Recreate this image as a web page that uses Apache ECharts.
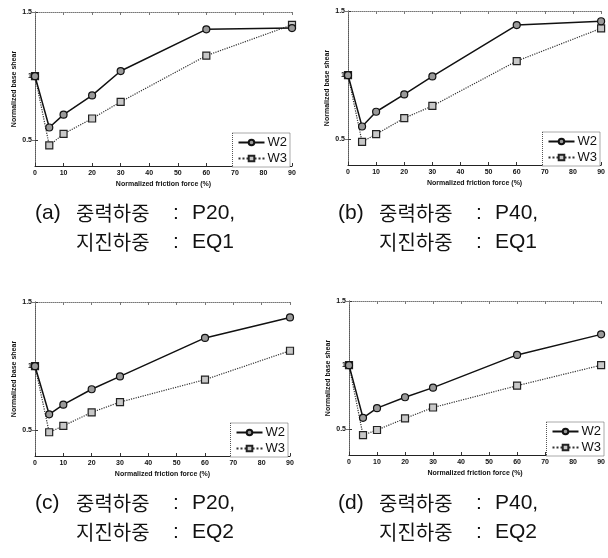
<!DOCTYPE html>
<html>
<head>
<meta charset="utf-8">
<script src="https://cdn.jsdelivr.net/npm/echarts@6/dist/echarts.min.js"></script>
<style>
  html, body { margin: 0; padding: 0; background: #ffffff; }
  #chart { width: 608px; height: 558px; }
</style>
</head>
<body>
<div id="chart"></div>
<script>
// 마찰력 (%)
const friction = [0, 5, 10, 20, 30, 60, 90];
const xTicks = [0, 10, 20, 30, 40, 50, 60, 70, 80, 90];
const yTicks = [0.5, 1, 1.5];

// (a) P20, EQ1
const w2A = [1.0, 0.60, 0.70, 0.85, 1.04, 1.365, 1.375];
const w3A = [1.0, 0.46, 0.55, 0.67, 0.80, 1.16, 1.40];
// (b) P40, EQ1
const w2B = [1.0, 0.60, 0.715, 0.85, 0.99, 1.39, 1.42];
const w3B = [1.0, 0.48, 0.54, 0.665, 0.76, 1.11, 1.365];
// (c) P20, EQ2
const w2C = [1.0, 0.625, 0.70, 0.82, 0.92, 1.22, 1.38];
const w3C = [1.0, 0.485, 0.535, 0.64, 0.72, 0.895, 1.12];
// (d) P40, EQ2
const w2D = [1.0, 0.59, 0.665, 0.75, 0.825, 1.08, 1.24];
const w3D = [1.0, 0.455, 0.495, 0.585, 0.67, 0.84, 1.0];

const capLetters = ["(a)", "(b)", "(c)", "(d)"];
const gravityLoads = ["P20,", "P40,", "P20,", "P40,"];
const quakeLoads = ["EQ1", "EQ1", "EQ2", "EQ2"];

const panels = [
  { w2: w2A, w3: w3A, left: 35, top: 12, width: 257, capX: 35, capY: 203 },
  { w2: w2B, w3: w3B, left: 348, top: 11, width: 254, capX: 338, capY: 203 },
  { w2: w2C, w3: w3C, left: 35, top: 302, width: 255, capX: 35, capY: 493 },
  { w2: w2D, w3: w3D, left: 349, top: 301, width: 257, capX: 338, capY: 493 },
];
const gridH = 154;

let grid = [], xAxis = [], yAxis = [], series = [], legend = [], title = [];

const labelFont = { color: "#111", fontSize: 7, fontWeight: "bold", fontFamily: "Liberation Sans" };
const capRich = {
  p: { fontSize: 21, fontWeight: "normal", fontFamily: "Liberation Sans", color: "#111", width: 41 },
  k: { fontSize: 20, fontWeight: "normal", fontFamily: "Noto Sans CJK KR", color: "#111", width: 97 },
  c: { fontSize: 21, fontWeight: "normal", fontFamily: "Liberation Sans", color: "#111", width: 19 },
  l: { fontSize: 21, fontWeight: "normal", fontFamily: "Liberation Sans", color: "#111" },
};

panels.forEach((p, i) => {
  grid.push({ left: p.left, top: p.top, width: p.width, height: gridH });

  // bottom / left axes
  xAxis.push({
    type: "value", gridIndex: i, min: 0, max: 90,
    name: "Normalized friction force (%)", nameLocation: "middle", nameGap: 15,
    nameTextStyle: { color: "#111", fontSize: 7, fontWeight: "bold", fontFamily: "Liberation Sans" },
    axisLine: { lineStyle: { color: "#222", width: 1 } },
    axisTick: { inside: true, length: 3, customValues: xTicks, lineStyle: { color: "#333" } },
    axisLabel: Object.assign({ margin: 4, customValues: xTicks }, labelFont),
    splitLine: { show: false },
  });
  yAxis.push({
    type: "value", gridIndex: i, min: 0.3, max: 1.5,
    name: "Normalized base shear", nameLocation: "middle", nameGap: 17,
    nameTextStyle: { color: "#111", fontSize: 7, fontWeight: "bold", fontFamily: "Liberation Sans" },
    axisLine: { lineStyle: { color: "#222", width: 1 } },
    axisTick: { inside: true, length: 3, customValues: yTicks, lineStyle: { color: "#333" } },
    axisLabel: Object.assign({ margin: 3, customValues: yTicks }, labelFont),
    splitLine: { show: false },
  });
  // top / right axes (dotted frame)
  xAxis.push({
    type: "value", gridIndex: i, min: 0, max: 90, position: "top",
    axisLine: { lineStyle: { color: "#777", width: 1, type: "dotted" } },
    axisTick: { inside: true, length: 3, customValues: xTicks, lineStyle: { color: "#777" } },
    axisLabel: { show: false }, splitLine: { show: false },
  });
  yAxis.push({
    type: "value", gridIndex: i, min: 0.3, max: 1.5, position: "right",
    axisLine: { lineStyle: { color: "#777", width: 1, type: "dotted" } },
    axisTick: { inside: true, length: 3, customValues: yTicks, lineStyle: { color: "#777" } },
    axisLabel: { show: false }, splitLine: { show: false },
  });

  series.push({
    name: "W2", type: "line", xAxisIndex: i * 2, yAxisIndex: i * 2,
    data: friction.map((f, k) => [f, p.w2[k]]),
    symbol: "circle", symbolSize: 7, z: 3,
    lineStyle: { color: "#111", width: 1.5, type: "solid" },
    itemStyle: { color: "#9a9a9a", borderColor: "#111", borderWidth: 1.2 },
  });
  series.push({
    name: "W3", type: "line", xAxisIndex: i * 2, yAxisIndex: i * 2,
    data: friction.map((f, k) => [f, p.w3[k]]),
    symbol: "rect", symbolSize: 7, z: 2,
    lineStyle: { color: "#333", width: 1.2, type: "dotted" },
    itemStyle: { color: "#c8c8c8", borderColor: "#222", borderWidth: 1.2 },
  });

  legend.push({
    data: ["W2", "W3"], orient: "vertical",
    right: 608 - (p.left + p.width) + 2, top: p.top + gridH - 33,
    itemWidth: 26, itemHeight: 7, itemGap: 3,
    padding: [3, 3, 2, 5],
    backgroundColor: "#fff",
    borderColor: "#555", borderWidth: 1, borderType: "dotted",
    textStyle: { color: "#111", fontSize: 13, fontFamily: "Liberation Sans", padding: [0, 0, 0, -2] },
    selectedMode: false,
  });

  title.push({
    text: "{p|" + capLetters[i] + "}{k|중력하중}{c|:}{l|" + gravityLoads[i] + "}",
    left: p.capX, top: p.capY, padding: 0,
    textStyle: { fontWeight: "normal", rich: capRich },
  });
  title.push({
    text: "{k|지진하중}{c|:}{l|" + quakeLoads[i] + "}",
    left: p.capX + 41, top: p.capY + 29, padding: 0,
    textStyle: { fontWeight: "normal", rich: capRich },
  });
});

const chart = echarts.init(document.getElementById("chart"), null, { renderer: "canvas" });
chart.setOption({
  animation: false,
  backgroundColor: "#ffffff",
  title: title,
  grid: grid,
  xAxis: xAxis,
  yAxis: yAxis,
  legend: legend,
  series: series,
});
</script>
</body>
</html>
